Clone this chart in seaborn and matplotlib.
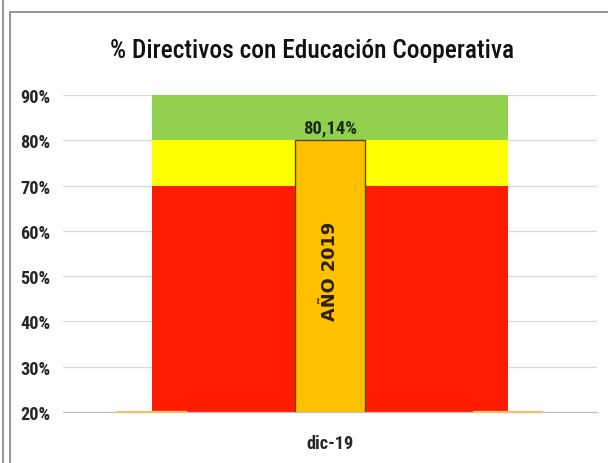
import numpy as np
import pandas as pd
import matplotlib
matplotlib.use("Agg")
import matplotlib.pyplot as plt
from matplotlib import font_manager
from matplotlib.lines import Line2D
import seaborn as sns

# Data
categorias = ["", "dic-19", " "]
porcentaje = [0.0, 0.8014, 0.0]
banda_roja = [0.70, 0.70, 0.70]
banda_amarilla = [0.10, 0.10, 0.10]
banda_verde = [0.10, 0.10, 0.10]
y_ticks = [0.2, 0.3, 0.4, 0.5, 0.6, 0.7, 0.8, 0.9]
y_tick_labels = ["20%", "30%", "40%", "50%", "60%", "70%", "80%", "90%"]
titulo = "% Directivos con Educación Cooperativa"
etiqueta_barra = "AÑO 2019"

sns.set_theme(style="white")


def pick_narrow():
    """Prefer a narrow / condensed sans face; fall back to Liberation Sans."""
    candidates = [("Liberation Sans Narrow", "normal"), ("Arial Narrow", "normal"),
                  ("Roboto Condensed", "normal"), ("Open Sans Condensed", "normal"),
                  ("Noto Sans", "condensed"), ("Open Sans", "condensed"),
                  ("DejaVu Sans", "condensed")]
    for fam, stretch in candidates:
        try:
            path = font_manager.findfont(
                font_manager.FontProperties(family=fam, stretch=stretch),
                fallback_to_default=False)
        except Exception:
            continue
        name = path.lower()
        if "narrow" in name or "cond" in name:
            return fam, stretch
    return "Liberation Sans", "normal"


fam, stretch = pick_narrow()
plt.rcParams["font.family"] = [fam, "DejaVu Sans"]
plt.rcParams["font.stretch"] = stretch

fig = plt.figure(figsize=(6.08, 4.64), dpi=100)
ax = fig.add_axes([63 / 608, 1 - 413 / 464, (597 - 63) / 608, (413 - 96) / 464])

df = pd.DataFrame({"periodo": categorias, "valor": porcentaje})

# stacked background bands (area series centred on categories)
pos = np.arange(len(categorias))
capas = [(banda_roja, "#FF1C00"), (banda_amarilla, "#FFFF00"), (banda_verde, "#92D050")]
base = np.zeros(len(categorias))
for valores, color in capas:
    tope = base + np.array(valores)
    ax.fill_between(pos, base, tope, color=color, linewidth=0, zorder=1)
    base = tope

sns.barplot(data=df, x="periodo", y="valor", order=categorias, width=0.39,
            color="#FFC000", saturation=1, edgecolor="#5E4800", linewidth=1.0,
            ax=ax, zorder=3)

ymin, ymax = 0.2, 0.9
ax.set_ylim(ymin, ymax)
ax.set_xlim(-0.5, len(categorias) - 0.5)

renderer = fig.canvas.get_renderer()


def fit_width(txt, width_px):
    """Scale a text's font size so its rendered width equals width_px."""
    w = txt.get_window_extent(renderer=renderer).width
    txt.set_fontsize(txt.get_fontsize() * width_px / w)


# bars below the axis floor show as a thin line on the axis
for patch, val in zip(ax.patches, porcentaje):
    if val <= ymin:
        x0 = patch.get_x()
        ax.plot([x0, x0 + patch.get_width()], [ymin, ymin], color="#E9C46A",
                lw=1.6, solid_capstyle="butt", clip_on=False, zorder=4)
    else:
        cx = patch.get_x() + patch.get_width() / 2
        texto = f"{val * 100:.2f}%".replace(".", ",")
        t = ax.annotate(texto, (cx, val), xytext=(0, 5.5), textcoords="offset points",
                        ha="center", va="baseline", fontsize=12, fontweight="bold",
                        color="#1F2D0F", zorder=5)
        fit_width(t, 54)
        ax.text(cx, 0.513, etiqueta_barra, rotation=90, ha="center", va="center",
                fontsize=12.8, fontweight="bold", family=["DejaVu Sans"],
                fontstretch="normal", color="#2B2000", zorder=5)

# axes styling
ax.set_yticks(y_ticks)
ax.set_yticklabels(y_tick_labels, fontsize=11, fontweight="bold", color="#262626")
ax.tick_params(axis="y", length=0, pad=9)
ax.yaxis.grid(True, color="#D9D9D9", lw=0.9)
ax.set_axisbelow(True)

ax.set_xticks(np.arange(len(categorias) + 1) - 0.5)
ax.set_xticklabels([""] * (len(categorias) + 1))
ax.tick_params(axis="x", which="major", length=5, width=0.8, color="#BFBFBF")
ax.set_xticks(pos, minor=True)
ax.set_xticklabels(categorias, minor=True, fontsize=11, fontweight="bold",
                   color="#262626")
ax.tick_params(axis="x", which="minor", length=0, pad=16)
ax.set_xlabel("")
ax.set_ylabel("")

fig.canvas.draw()
ylab = ax.get_yticklabels()
ysize = ylab[-1].get_fontsize() * 30 / ylab[-1].get_window_extent(renderer).width
ax.tick_params(axis="y", labelsize=ysize)
xlab = [t for t in ax.get_xticklabels(minor=True) if t.get_text().strip()]
xsize = xlab[0].get_fontsize() * 47 / xlab[0].get_window_extent(renderer).width
ax.tick_params(axis="x", which="minor", labelsize=xsize)

for side in ["top", "right", "left"]:
    ax.spines[side].set_visible(False)
ax.spines["bottom"].set_color("#BFBFBF")
ax.spines["bottom"].set_linewidth(0.9)

title = fig.text(312.5 / 608, 1 - 58 / 464, titulo, ha="center", va="baseline",
                 fontsize=16, fontweight="medium", color="#111111")
fit_width(title, 405)

# chart frame
W, H = 608, 464
frame_kw = dict(color="#8C8C8C", lw=1.3, transform=fig.transFigure)
fig.add_artist(Line2D([3 / W, 3 / W], [0, 1], **frame_kw))
fig.add_artist(Line2D([10 / W, 10 / W], [0, 1 - 13 / H], **frame_kw))
fig.add_artist(Line2D([10 / W, 1], [1 - 13 / H, 1 - 13 / H], **frame_kw))

fig.savefig("out.png", dpi=100)
